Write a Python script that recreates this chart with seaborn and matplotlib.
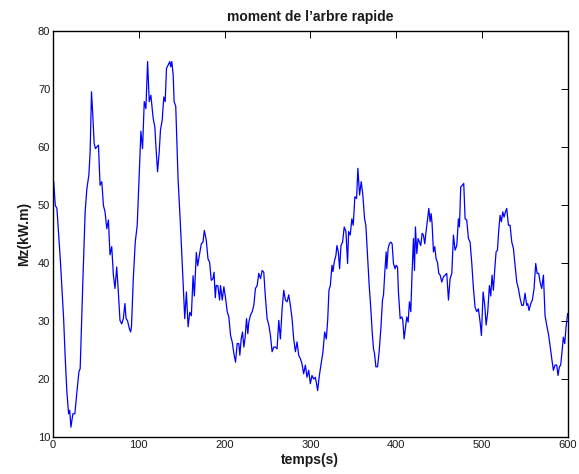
import pandas as pd
import matplotlib
matplotlib.use("Agg")
import matplotlib.pyplot as plt
import seaborn as sns

# values (temps en s, Mz en kW.m)
temps = [0.8, 2.7, 4.6, 8.5, 12.4, 14.3, 16.2, 18.2, 19.5, 20.9, 23.2, 25.5, 27.9, 30.2, 31.7,
         34.8, 37.5, 39.5, 41.8, 43.3, 44.9, 46.4, 48.0, 49.5, 51.1, 53.0, 54.9, 56.9, 58.8,
         60.7, 62.7, 64.6, 66.5, 68.5, 70.4, 72.3, 74.3, 76.2, 78.1, 80.1, 82.0, 83.9, 85.2,
         86.8, 89.0, 90.5, 91.5, 93.6, 95.9, 98.2, 100.6, 102.5, 104.4, 106.4, 108.3, 110.3,
         112.2, 114.1, 116.8, 118.8, 119.9, 121.9, 123.8, 125.3, 127.3, 129.2, 130.8, 132.3,
         134.2, 136.2, 137.3, 138.5, 140.1, 141.2, 143.1, 145.8, 147.8, 149.7, 151.6, 153.6,
         155.5, 157.5, 159.4, 161.3, 163.3, 164.8, 167.1, 168.7, 170.6, 172.9, 174.9, 176.4,
         178.7, 180.7, 182.6, 184.5, 186.5, 187.7, 189.2, 190.3, 192.2, 194.2, 195.3, 197.3,
         199.2, 201.2, 203.1, 205.0, 207.0, 208.9, 210.9, 212.8, 214.7, 216.6, 217.8, 219.4,
         220.9, 222.5, 224.0, 225.6, 227.1, 228.3, 230.2, 232.2, 234.1, 236.0, 238.0, 239.9,
         241.9, 243.8, 245.7, 247.7, 249.6, 251.6, 253.5, 255.4, 257.4, 259.3, 261.2, 263.2,
         265.1, 267.1, 269.0, 270.9, 272.9, 274.8, 276.7, 278.7, 280.6, 282.6, 284.5, 286.4,
         288.4, 290.3, 292.2, 294.2, 296.1, 298.1, 300.0, 301.9, 303.9, 305.8, 307.0, 308.5,
         310.5, 312.4, 314.7, 316.7, 318.6, 320.2, 321.7, 323.3, 325.2, 326.4, 327.9, 329.8,
         331.0, 332.6, 334.1, 335.7, 337.6, 339.5, 341.5, 343.4, 344.6, 346.5, 348.4, 350.0,
         351.9, 353.9, 355.4, 357.4, 359.3, 361.2, 363.2, 364.7, 366.7, 368.6, 370.5, 372.1,
         373.6, 374.8, 376.4, 378.3, 380.2, 382.2, 384.1, 385.3, 386.8, 388.4, 389.1, 390.7,
         392.2, 393.8, 395.3, 396.9, 398.8, 400.0, 401.6, 402.7, 404.7, 406.6, 407.8, 409.3,
         410.9, 412.4, 414.0, 415.5, 417.1, 418.6, 420.2, 421.4, 422.5, 424.1, 425.6, 427.2,
         428.7, 430.3, 431.8, 433.4, 434.9, 436.5, 438.1, 439.6, 440.8, 441.9, 443.5, 445.0,
         446.6, 448.2, 449.7, 451.3, 453.2, 455.1, 457.1, 459.0, 461.0, 462.9, 464.9, 466.8,
         468.7, 470.7, 472.6, 473.8, 475.3, 477.3, 478.8, 480.4, 482.3, 484.3, 486.2, 488.2,
         490.1, 492.0, 494.0, 495.9, 497.9, 499.4, 501.4, 503.3, 504.9, 506.8, 508.7, 510.3,
         511.8, 513.4, 515.0, 516.5, 518.1, 519.6, 521.2, 522.7, 524.3, 525.8, 527.4, 528.9,
         530.9, 532.8, 534.8, 536.7, 538.6, 540.6, 542.5, 544.5, 546.4, 548.3, 550.3, 552.2,
         553.4, 554.9, 556.9, 558.8, 560.8, 562.7, 564.3, 566.2, 567.8, 569.7, 571.7, 573.6,
         575.5, 577.5, 579.4, 581.4, 583.3, 585.2, 587.2, 588.7, 590.3, 591.8, 593.4, 594.9,
         596.5, 598.0, 600.0]
mz = [54.0, 49.9, 49.4, 40.7, 30.4, 23.5, 17.8, 14.0, 14.6, 11.7, 14.0, 14.0, 17.8, 21.2, 21.8,
      36.7, 48.8, 52.8, 55.1, 59.1, 69.5, 65.5, 60.6, 59.7, 60.0, 60.3, 53.4, 54.0, 49.9,
      48.8, 45.9, 47.4, 41.4, 42.8, 37.9, 35.6, 39.3, 35.0, 30.1, 29.5, 30.4, 33.0, 30.4,
      30.1, 28.7, 28.1, 29.0, 37.2, 43.6, 46.5, 55.7, 62.7, 59.7, 67.8, 66.6, 74.7,
      67.8, 68.9, 64.9, 63.4, 60.3, 55.7, 59.1, 62.9, 64.6, 68.6, 67.8, 73.5,
      74.1, 74.7, 73.8, 74.7, 72.4, 67.8, 67.0, 54.5, 48.8, 43.0, 36.7, 30.4,
      35.0, 29.0, 31.5, 30.9, 37.8, 34.3, 41.8, 39.5, 41.3, 43.3, 43.6, 45.6,
      43.9, 40.7, 40.1, 37.0, 37.3, 38.4, 34.0, 36.1, 36.1, 33.6, 36.1, 33.6,
      35.9, 33.9, 31.6, 30.7, 27.5, 26.4, 24.4, 22.9, 26.1, 26.1, 24.1, 26.9,
      28.1, 25.5, 27.2, 30.4, 27.8, 29.8, 31.0, 31.6, 32.7, 35.6, 36.1, 38.2,
      37.3, 38.7, 38.4, 33.9, 30.4, 29.3, 27.5, 24.7, 25.5, 25.5, 25.2, 30.1,
      26.9, 32.1, 35.3, 33.6, 33.3, 34.5, 32.7, 30.4, 26.9, 24.7, 26.4, 24.1,
      23.5, 22.6, 20.9, 22.4, 20.3, 21.5, 19.2, 20.6, 20.0, 20.3, 19.4, 18.0,
      20.6, 22.4, 24.7, 28.1, 26.9, 30.1, 35.3, 36.1, 39.6, 38.5, 40.2, 41.3,
      43.0, 41.9, 39.0, 43.0, 43.6, 46.2, 45.4, 39.9, 45.4, 44.8, 47.6, 46.5,
      51.4, 51.1, 56.3, 51.7, 54.0, 51.7, 47.6, 46.5, 41.3, 36.1, 32.1, 28.1,
      25.2, 24.4, 22.1, 22.1, 24.7, 28.7, 33.6, 34.5, 38.4, 41.9, 39.0, 42.5,
      43.3, 43.6, 43.3, 39.9, 39.0, 39.6, 39.3, 35.0, 30.4, 30.7, 30.1, 26.9,
      28.9, 30.7, 29.8, 33.3, 31.6, 38.4, 44.2, 38.7, 46.2, 41.6, 44.2, 43.6,
      43.0, 45.1, 44.8, 43.3, 45.4, 47.4, 49.4, 47.1, 48.5, 46.8, 41.9, 42.8,
      40.7, 40.1, 38.2, 37.9, 36.7, 37.6, 37.9, 38.2, 33.6, 37.3, 38.2, 44.8,
      42.2, 43.0, 47.6, 46.2, 53.1, 53.4, 53.7, 47.6, 47.4, 44.2, 43.6, 39.9,
      35.6, 32.4, 31.6, 32.1, 29.8, 27.5, 35.0, 32.7, 29.3, 31.6, 36.1, 34.3,
      37.9, 35.3, 39.0, 41.9, 42.2, 45.6, 48.2, 47.1, 48.8, 47.9, 48.8, 49.4,
      46.5, 46.5, 43.6, 42.5, 39.6, 36.7, 35.6, 33.9, 32.7, 32.7, 34.8, 32.7,
      33.0, 31.8, 33.0, 33.6, 35.6, 39.9, 38.2, 38.2, 36.7, 35.6, 37.9, 30.9,
      29.3, 27.8, 25.8, 23.5, 21.5, 22.4, 22.4, 20.6, 22.1, 22.4, 24.7, 27.2,
      26.1, 28.9, 31.3]

df = pd.DataFrame({"temps": temps, "Mz": mz})

sns.set_style("white")
plt.rcParams['font.family'] = ['Liberation Sans', 'DejaVu Sans']

fig = plt.figure(figsize=(5.79, 4.74), dpi=100)
ax = fig.add_axes([0.0915, 0.078, 0.889, 0.857])
sns.lineplot(data=df, x="temps", y="Mz", color="#0000ff", linewidth=0.9, ax=ax)

ax.set_xlim(0, 600)
ax.set_ylim(10, 80)
ax.set_xticks(range(0, 601, 100))
ax.set_yticks(range(10, 81, 10))
ax.tick_params(direction="in", top=True, right=True, length=5, width=0.7,
               labelsize=8, color="black", labelcolor="#1a1a1a", pad=2)
for s in ax.spines.values():
    s.set_color("black")
    s.set_linewidth(1.0)

ax.set_title("moment de l\u2019arbre rapide", fontsize=10, fontweight="bold",
             pad=7, color="#1a1a1a")
ax.set_xlabel("temps(s)", fontsize=10, fontweight="bold", labelpad=2, color="#1a1a1a")
ax.set_ylabel("Mz(kW.m)", fontsize=10, fontweight="bold", labelpad=5, color="#1a1a1a")

fig.savefig("out.png", dpi=100)
